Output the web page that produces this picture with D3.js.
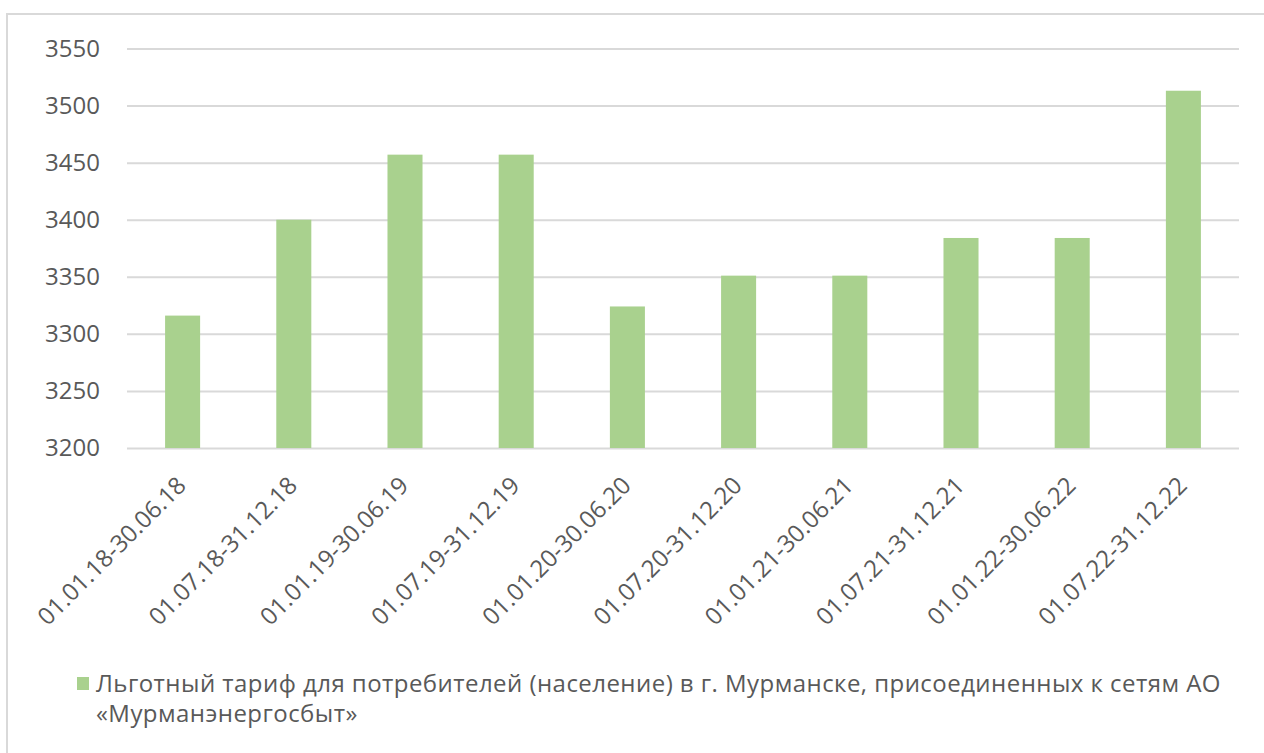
<!DOCTYPE html>
<html>
<head>
<meta charset="utf-8">
<script src="https://cdn.jsdelivr.net/npm/d3@7"></script>
<style>
  html, body { margin: 0; padding: 0; background: #fff; }
  svg { display: block; }
  text { font-family: "Open Sans", "Noto Sans", sans-serif; fill: #595959; }
</style>
</head>
<body>
<svg id="chart" width="1264" height="753"></svg>
<script>
// Tariff periods and values
const periods = [
  "01.01.18-30.06.18", "01.07.18-31.12.18",
  "01.01.19-30.06.19", "01.07.19-31.12.19",
  "01.01.20-30.06.20", "01.07.20-31.12.20",
  "01.01.21-30.06.21", "01.07.21-31.12.21",
  "01.01.22-30.06.22", "01.07.22-31.12.22"
];
const tariff = [3316, 3400, 3457, 3457, 3324, 3351, 3351, 3384, 3384, 3513];
const yTicks = [3200, 3250, 3300, 3350, 3400, 3450, 3500, 3550];
const legendLines = [
  "Льготный тариф для потребителей (население) в г. Мурманске, присоединенных к сетям АО",
  "«Мурманэнергосбыт»"
];

const svg = d3.select("#chart");
const plot = { left: 127, right: 1239, top: 48.5, bottom: 448 };
const barColor = "#A9D18E";
const gridColor = "#D9D9D9";

// Chart frame
svg.append("rect")
  .attr("x", 7).attr("y", 14)
  .attr("width", 1270).attr("height", 760)
  .attr("fill", "#fff")
  .attr("stroke", gridColor).attr("stroke-width", 2);

const x = d3.scaleBand()
  .domain(periods)
  .range([plot.left, plot.right])
  .paddingInner(0.685)
  .paddingOuter(0.3425);

const y = d3.scaleLinear()
  .domain([3200, 3550])
  .range([plot.bottom, plot.top]);

// Horizontal gridlines + value labels
const yAxis = svg.append("g")
  .attr("transform", `translate(${plot.left},0)`)
  .call(d3.axisLeft(y).tickValues(yTicks).tickSize(-(plot.right - plot.left)).tickPadding(27).tickFormat(d3.format("d")));
yAxis.select(".domain").remove();
yAxis.selectAll(".tick line").attr("stroke", gridColor).attr("stroke-width", 2);
yAxis.selectAll(".tick text")
  .attr("fill", "#595959")
  .style("font-size", "24px")
  .style("font-family", "'Open Sans', sans-serif");

// Bars
svg.append("g").selectAll("rect")
  .data(tariff)
  .join("rect")
  .attr("x", (d, i) => x(periods[i]))
  .attr("y", d => y(d))
  .attr("width", x.bandwidth())
  .attr("height", d => y(3200) - y(d))
  .attr("fill", barColor);

// Category labels, rotated
const xAxis = svg.append("g")
  .attr("transform", `translate(0,${plot.bottom})`)
  .call(d3.axisBottom(x).tickSize(0).tickPadding(0));
xAxis.select(".domain").remove();
xAxis.selectAll(".tick text")
  .attr("text-anchor", "end")
  .attr("fill", "#595959")
  .style("font-size", "24px")
  .style("font-family", "'Open Sans', sans-serif")
  .attr("transform", "translate(-1,33) rotate(-45)")
  .attr("dy", "0.35em")
  .attr("y", 0);

// Legend
const legend = svg.append("g");
legend.append("rect")
  .attr("x", 77).attr("y", 677)
  .attr("width", 12).attr("height", 13)
  .attr("fill", barColor);
legend.selectAll("text")
  .data(legendLines)
  .join("text")
  .attr("x", 96)
  .attr("y", (d, i) => 692 + i * 30)
  .style("font-size", "24px")
  .style("letter-spacing", "0.45px")
  .text(d => d);
</script>
</body>
</html>
